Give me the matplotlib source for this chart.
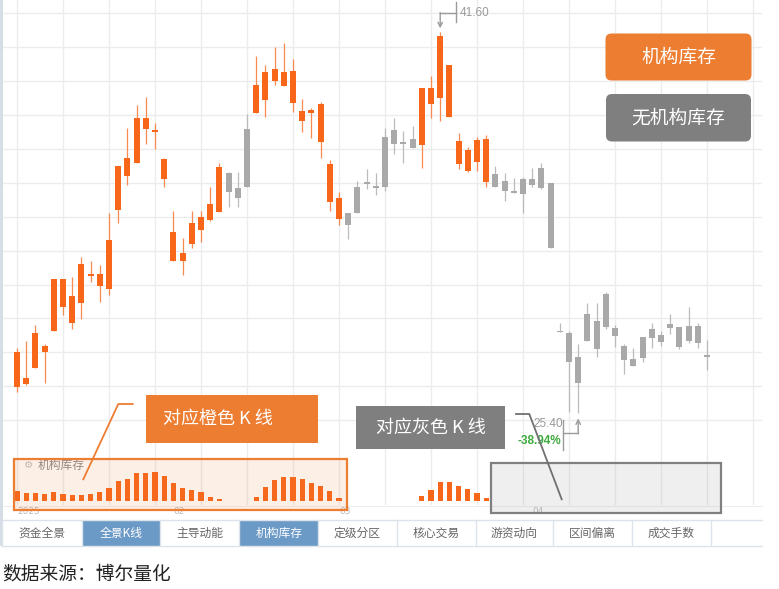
import matplotlib
matplotlib.use("Agg")
import matplotlib.pyplot as plt
from matplotlib.patches import FancyBboxPatch, Rectangle
from matplotlib.transforms import blended_transform_factory
import numpy as np

plt.rcParams['font.family'] = ['Noto Sans CJK SC', 'DejaVu Sans']

# ---------------- data ----------------
opens = [26.53, 26.91, 27.31, 27.99, 28.89, 29.93, 30.38, 30.07, 31.27, 31.31,
         30.66, 34.03, 35.47, 36.01, 37.46, 37.38, 36.21, 33.08, 32.19, 32.59,
         33.18, 33.61, 33.96, 34.81, 34.98, 35.02, 38.14, 38.70, 39.51, 39.90,
         39.93, 38.25, 38.14, 38.54, 35.98, 34.53, 33.89, 33.92, 35.18, 35.01,
         35.02, 36.83, 36.93, 37.06, 36.78, 38.52, 38.77, 40.19, 36.96, 36.59,
         36.06, 37.06, 35.55, 35.26, 34.80, 34.70, 35.09, 34.98, 35.16, 28.87,
         28.82, 27.80, 28.47, 29.32, 29.08, 29.01, 28.27, 27.71, 27.74, 28.58,
         28.72, 29.03, 29.05, 28.48, 29.11, 27.83]
highs = [28.16, 28.48, 29.15, 28.33, 31.09, 31.09, 31.17, 32.02, 31.88, 31.70,
         33.89, 35.91, 37.52, 38.49, 38.84, 37.74, 36.25, 34.00, 32.83, 34.00,
         34.00, 35.00, 36.01, 35.66, 35.66, 38.11, 40.57, 40.19, 40.96, 41.13,
         40.43, 38.74, 38.35, 38.63, 36.15, 34.81, 33.89, 35.27, 35.77, 35.61,
         37.50, 37.95, 37.38, 37.60, 39.22, 39.72, 41.60, 40.19, 37.31, 36.72,
         37.14, 37.20, 35.91, 35.61, 35.40, 35.44, 35.83, 36.04, 35.16, 29.25,
         28.89, 28.33, 30.10, 30.07, 30.54, 29.15, 28.33, 28.16, 28.63, 29.25,
         28.89, 29.62, 29.05, 29.90, 29.22, 28.51]
lows = [26.32, 26.60, 27.31, 26.68, 28.89, 29.57, 28.97, 29.39, 30.96, 30.11,
        30.42, 33.49, 35.09, 36.01, 36.83, 36.62, 35.02, 31.88, 31.27, 32.41,
        32.69, 33.56, 33.93, 34.15, 34.17, 35.02, 38.14, 37.97, 39.34, 39.32,
        38.20, 37.33, 37.10, 36.23, 34.00, 33.39, 32.79, 33.92, 34.92, 34.67,
        34.85, 36.41, 36.01, 36.66, 35.80, 37.92, 37.81, 37.97, 35.77, 35.66,
        35.69, 35.02, 35.01, 34.41, 34.74, 33.89, 35.02, 34.92, 32.41, 28.87,
        25.44, 25.40, 28.47, 27.80, 28.97, 28.20, 27.06, 27.41, 27.59, 28.16,
        28.27, 28.75, 28.12, 28.37, 28.16, 27.24]
closes = [28.02, 26.63, 28.80, 28.26, 31.09, 31.09, 29.22, 31.73, 31.27, 30.82,
          32.76, 35.91, 36.25, 37.95, 37.95, 37.38, 35.35, 31.88, 31.88, 33.47,
          33.72, 34.27, 35.87, 35.59, 34.55, 37.47, 39.34, 39.90, 40.02, 39.32,
          38.56, 37.80, 38.29, 36.92, 34.37, 33.65, 33.39, 35.02, 35.18, 35.01,
          37.14, 37.43, 36.83, 36.66, 39.22, 39.22, 41.43, 37.97, 35.98, 35.70,
          37.00, 35.21, 35.01, 34.84, 34.80, 35.35, 35.35, 35.83, 32.41, 28.87,
          27.58, 26.67, 29.62, 28.12, 30.47, 28.70, 27.66, 27.41, 28.63, 28.98,
          28.44, 29.19, 28.20, 29.11, 28.37, 27.83]
# institutional inventory (0 = none -> grey candle)
inventory = [97, 80, 80, 64, 84, 67, 54, 54, 64, 84,
             127, 197, 220, 274, 274, 284, 250, 174, 124, 107,
             84, 40, 20, 0, 0, 0, 40, 134, 207, 234,
             234, 214, 174, 147, 100, 24, 0, 0, 0, 0,
             0, 0, 0, 0, 47, 107, 187, 187, 147, 117,
             74, 24, 0, 0, 0, 0, 0, 0, 0, 0,
             0, 0, 0, 0, 0, 0, 0, 0, 0, 0,
             0, 0, 0, 0, 0, 0]
date_idx = [0, 17, 35, 56]
date_labels = ["2025", "02", "03", "04"]
tab_labels = ["资金全景", "全景K线", "主导动能", "机构库存", "定级分区",
              "核心交易", "游资动向", "区间偏离", "成交手数"]
tab_selected = [1, 3]

# ---------------- figure ----------------
W, H = 779, 589
fig = plt.figure(figsize=(W / 100, H / 100), dpi=100)
fig.patch.set_facecolor('white')


def fr(x0, y0, x1, y1):
    return [x0 / W, 1 - y1 / H, (x1 - x0) / W, (y1 - y0) / H]


ORANGE = '#F8661A'
ORANGE_W = '#F98A50'
GREY_K = '#A9A9A9'
GREY_W = '#BBBBBB'
GRID = '#ECECEC'
BOX_OR = '#ED7D31'
BOX_GR = '#7F7F7F'

n = len(opens)
x = np.arange(n)
o = np.array(opens); c = np.array(closes)
hi = np.array(highs); lo = np.array(lows)
inv = np.array(inventory)
inst = inv > 0

ax = fig.add_axes(fr(3, 0, 762, 505))
ax.set_facecolor('none')
ax.set_xlim((3 - 17) / 9.2, (762 - 17) / 9.2)
ax.set_ylim(21.51, 42.95)
ax.set_xticks(np.arange(0, 81, 5))
ax.set_yticks(42.38 - 1.439 * np.arange(13))
ax.grid(True, color=GRID, lw=1.0)
ax.tick_params(length=0, labelbottom=False, labelleft=False)
for s in ax.spines.values():
    s.set_visible(False)

body_col = [ORANGE if f else GREY_K for f in inst]
wick_col = [ORANGE_W if f else GREY_W for f in inst]
ax.vlines(x, lo, hi, colors=wick_col, lw=0.9, zorder=2)
bot = np.minimum(o, c)
ht = np.abs(c - o)
dmin = 0.07
bot = np.where(ht < dmin, (o + c) / 2 - dmin / 2, bot)
ht = np.maximum(ht, dmin)
ax.bar(x, ht, 0.66, bot, color=body_col, zorder=3, lw=0)

# date labels
tr = blended_transform_factory(ax.transData, fig.transFigure)
for i, lab in zip(date_idx, date_labels):
    ax.text(i, 1 - 511 / H, lab, transform=tr, ha='left', va='center',
            fontsize=6.5, color='#BBBBBB', family=['DejaVu Sans'], clip_on=False)

# sub panel: institutional inventory bars
ax2 = fig.add_axes(fr(3, 455, 762, 500.7))
ax2.set_facecolor('none')
ax2.set_xlim(ax.get_xlim())
ax2.set_ylim(0, 457)
ax2.axis('off')
ax2.bar(x[inst], inv[inst], 0.58, color=ORANGE, lw=0, zorder=3)

# ---------------- overlay (pixel coords) ----------------
ov = fig.add_axes([0, 0, 1, 1])
ov.set_xlim(0, W)
ov.set_ylim(H, 0)
ov.axis('off')
ov.set_facecolor('none')

# left stripe and sub-panel bottom rule
ov.add_patch(Rectangle((0, 0), 3.5, 546, color='#D6DDE6', lw=0))
ov.plot([3.5, 762], [506, 506], color='#EEEEEE', lw=0.8)

# max / min annotations
def to_px(xd, yd):
    dx, dy = ax.transData.transform((xd, yd))
    return dx, H - dy

imax = int(np.argmax(hi)); imin = int(np.argmin(lo))
vmax = hi[imax]; vmin = lo[imin]
ann = '#9A9A9A'
px, py = to_px(imax, vmax)
ov.annotate('', xy=(px, py - 3.5), xytext=(px, py - 19.2),
            arrowprops=dict(arrowstyle='->', color=ann, lw=1.0,
                            shrinkA=0, shrinkB=0, mutation_scale=8))
ov.plot([px, px + 15.5], [py - 19, py - 19], color=ann, lw=1.0)
ov.plot([px + 15.5, px + 15.5], [py - 30, py - 10], color=ann, lw=1.0)
ov.text(px + 19.5, py - 18.5, f"{vmax:.2f}", ha='left', va='center',
        fontsize=8.5, color=ann, family=['Liberation Sans'])

qx, qy = to_px(imin, vmin)
ov.annotate('', xy=(qx, qy + 5), xytext=(qx, qy + 20.2),
            arrowprops=dict(arrowstyle='->', color=ann, lw=1.0,
                            shrinkA=0, shrinkB=0, mutation_scale=8))
ov.plot([qx, qx - 15.5], [qy + 20, qy + 20], color=ann, lw=1.0)
ov.plot([qx - 15.5, qx - 15.5], [qy + 6.7, qy + 36.7], color=ann, lw=1.0)
ov.text(qx - 15.0, qy + 11, f"{vmin:.2f}", ha='right', va='center',
        fontsize=8.5, color=ann, family=['Liberation Sans'])
ov.text(qx - 17.5, qy + 27.5, f"{(vmin - vmax) / vmax * 100:.2f}%", ha='right',
        va='center', fontsize=8.5, color='#3DAA3D', fontweight='bold',
        family=['Liberation Sans'])

# legend-like buttons
ov.add_patch(FancyBboxPatch((605.5, 33.5), 146, 47,
                            boxstyle='round,pad=0,rounding_size=6',
                            fc=BOX_OR, ec='none'))
ov.text(678.5, 57.5, "机构库存", ha='center', va='center', fontsize=13.5, color='white')
ov.add_patch(FancyBboxPatch((606, 94), 145, 47.5,
                            boxstyle='round,pad=0,rounding_size=6',
                            fc=BOX_GR, ec='none'))
ov.text(678.5, 118, "无机构库存", ha='center', va='center', fontsize=13.5, color='white')

# callout boxes
ov.add_patch(Rectangle((146, 395), 172.5, 47.5, fc=BOX_OR, ec='none', zorder=5))
ov.text(163, 419, "对应橙色 K 线", ha='left', va='center', fontsize=13,
        color='white', zorder=6)
ov.add_patch(Rectangle((356.5, 406), 148.5, 43, fc=BOX_GR, ec='none', zorder=5))
ov.text(430.8, 428, "对应灰色 K 线", ha='center', va='center', fontsize=13,
        color='white', zorder=6)

# sub panel label
ov.text(29, 465, "⚙", ha='center', va='center', fontsize=7.5, color='#C0C0C0',
        family=['DejaVu Sans'])
ov.text(38, 465, "机构库存", ha='left', va='center', fontsize=8.5, color='#8A8A8A')

# highlight frames
ov.add_patch(Rectangle((14, 458.5), 333.5, 51.5, fc=(0.93, 0.49, 0.19, 0.12),
                       ec=BOX_OR, lw=1.6, zorder=4))
ov.add_patch(Rectangle((490.7, 462.7), 230.3, 50, fc=(0.5, 0.5, 0.5, 0.12),
                       ec='#808080', lw=1.6, zorder=4))

# connector lines
ov.plot([132.7, 118.3, 83.3], [404, 404, 479.3], color=BOX_OR, lw=1.3, zorder=6)
ov.plot([516, 529.3, 561.7], [414, 414, 499.3], color='#707070', lw=1.3, zorder=6)

# tab bar
edges = [1.7, 82.3, 160, 239.3, 318.3, 396.7, 475.7, 553.3, 632.3, 710.7, 761.7]
ty0, ty1 = 520, 545.7
for k, lab in enumerate(tab_labels):
    sel = k in tab_selected
    if sel:
        ov.add_patch(Rectangle((edges[k], ty0), edges[k + 1] - edges[k], ty1 - ty0,
                               fc='#6C9AC6', ec='none'))
    ov.text((edges[k] + edges[k + 1]) / 2, (ty0 + ty1) / 2 + 0.5, lab,
            ha='center', va='center', fontsize=8.5,
            color='white' if sel else '#666666')
ov.plot([edges[0], edges[-1]], [ty0, ty0], color='#DDE3EA', lw=1.0)
ov.plot([edges[0], edges[-1]], [ty1, ty1], color='#DDE3EA', lw=1.0)
for e in edges[:-1]:
    ov.plot([e, e], [ty0, ty1], color='#DDE3EA', lw=1.0)

# source caption
ov.text(2, 574, "数据来源：博尔量化", ha='left', va='center', fontsize=13.5,
        color='#222222')

fig.savefig('out.png', dpi=100)
